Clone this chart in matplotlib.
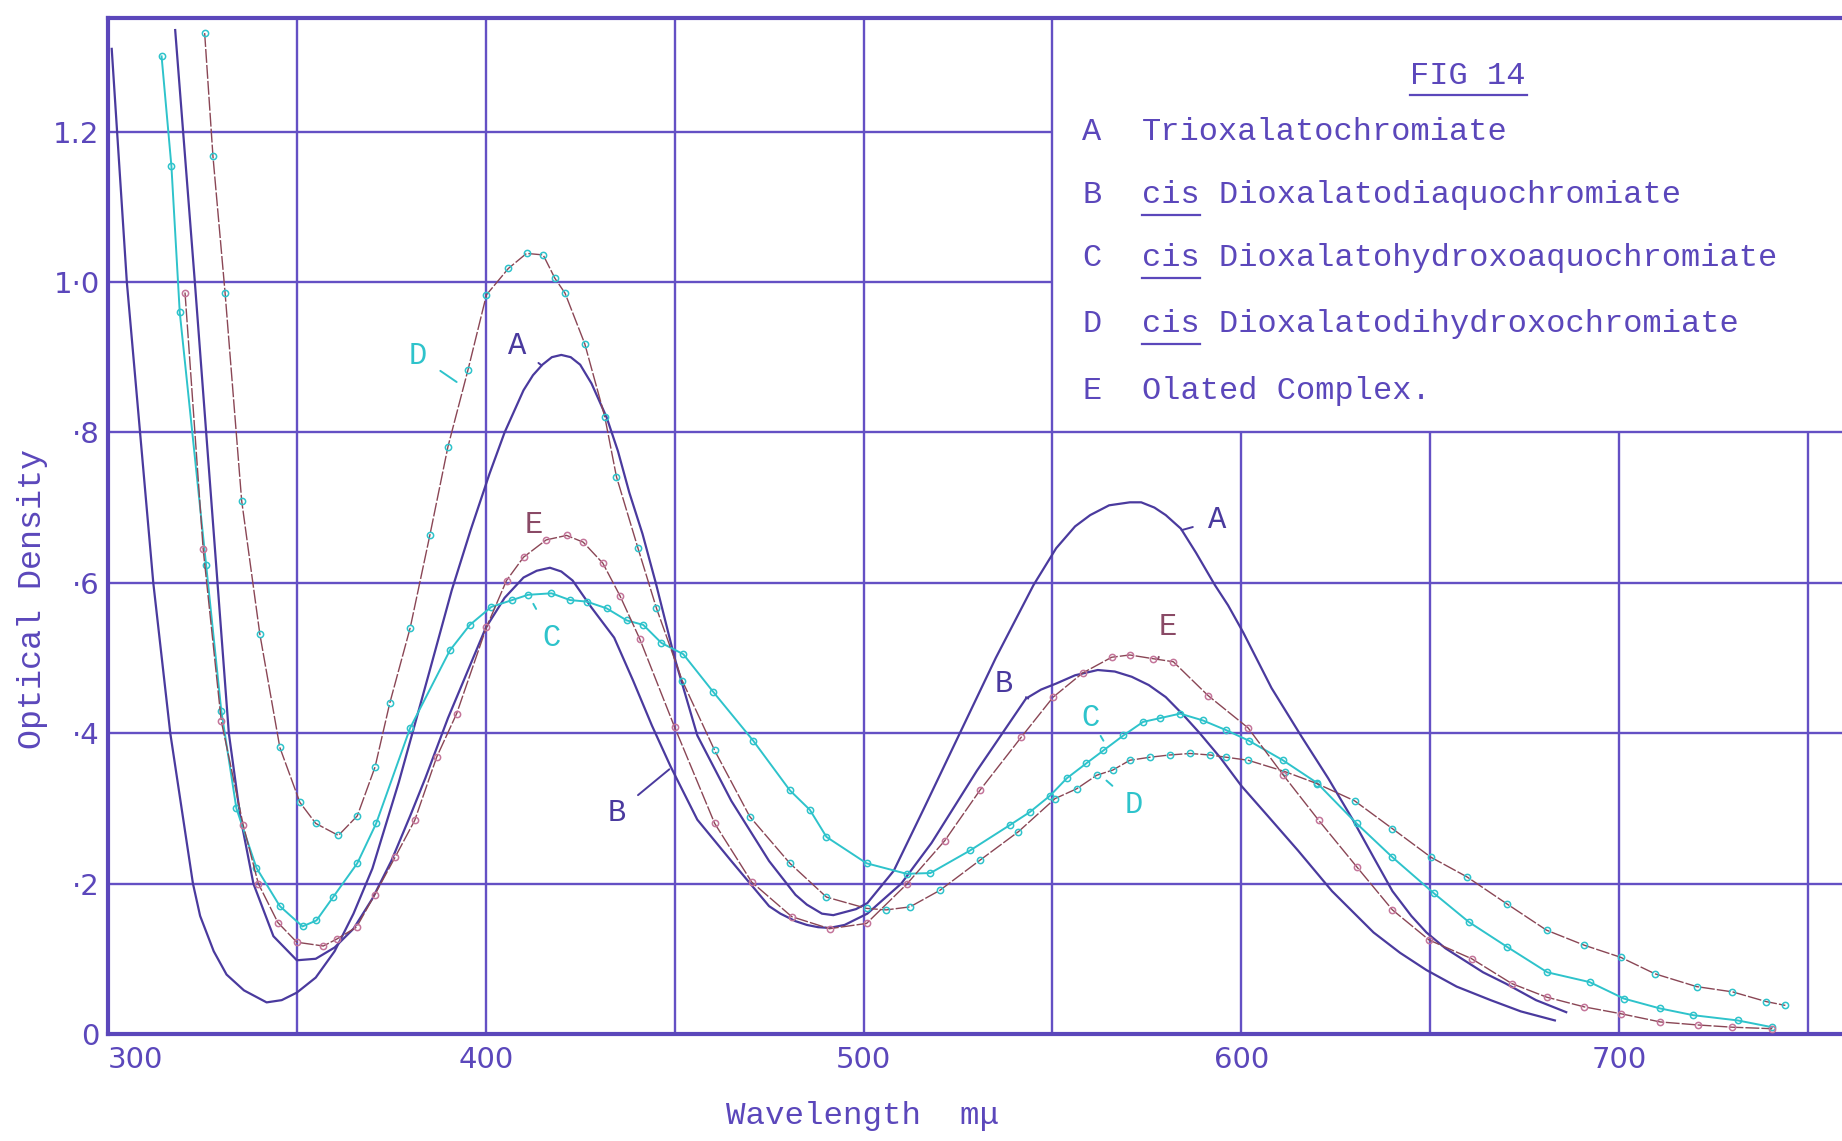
import matplotlib
matplotlib.use("Agg")
import matplotlib.pyplot as plt
from matplotlib.lines import Line2D

# ---- data (wavelength in m\u03bc, optical density) ----
A_nm = [301, 305, 308.5, 312, 316.5, 322.5, 324.4, 328, 331.4, 336, 342, 346, 350, 355, 360,
        365, 370, 377, 385, 391, 396, 401, 405, 410, 412.5, 415, 417.5, 420, 422.5, 425, 428,
        432, 435, 438, 441.5, 445, 450, 456, 465, 475, 482, 485, 489, 492, 495, 498, 501, 508,
        516, 525.5, 535, 545, 551, 556, 560, 565, 570.5, 573.5, 577, 580, 584, 588, 593,
        596.5, 600.5, 608, 616, 623, 629.5, 635, 640, 645, 649, 654, 659, 664, 670, 678, 686]
A_od = [1.31, 1.00, 0.80, 0.60, 0.40, 0.20, 0.157, 0.11, 0.079, 0.058, 0.042, 0.045, 0.055,
        0.075, 0.11, 0.16, 0.22, 0.335, 0.48, 0.59, 0.67, 0.745, 0.80, 0.856, 0.876, 0.89,
        0.90, 0.903, 0.90, 0.89, 0.865, 0.82, 0.775, 0.72, 0.665, 0.60, 0.50, 0.397, 0.31,
        0.23, 0.185, 0.172, 0.16, 0.158, 0.162, 0.166, 0.174, 0.217, 0.30, 0.40, 0.50, 0.597,
        0.646, 0.675, 0.69, 0.703, 0.707, 0.707, 0.70, 0.69, 0.672, 0.64, 0.597, 0.57, 0.534,
        0.46, 0.395, 0.34, 0.285, 0.235, 0.19, 0.157, 0.135, 0.114, 0.098, 0.082, 0.067,
        0.045, 0.029]

B_nm = [317.8, 323, 326, 329, 332, 335, 338.5, 343.8, 350, 355, 360, 365, 370, 375, 380, 384,
        390, 395, 400, 405, 410, 413.5, 417, 420, 423, 428, 434, 439, 444, 449, 456, 465, 475,
        478, 482, 485, 488, 491, 495, 501, 510, 518, 530, 543, 547, 551, 556, 562, 566.5, 571,
        575.5, 580, 584.5, 589, 594.5, 600, 607, 615, 624, 635, 642, 649, 657, 666, 674, 683]
B_od = [1.335, 1.0, 0.80, 0.60, 0.40, 0.29, 0.20, 0.13, 0.098, 0.10, 0.115, 0.14, 0.18, 0.23,
        0.29, 0.34, 0.42, 0.48, 0.54, 0.58, 0.607, 0.616, 0.62, 0.615, 0.603, 0.567, 0.527,
        0.47, 0.41, 0.355, 0.285, 0.23, 0.17, 0.16, 0.15, 0.145, 0.142, 0.141, 0.145, 0.16,
        0.20, 0.254, 0.35, 0.446, 0.458, 0.466, 0.477, 0.484, 0.482, 0.475, 0.464, 0.448,
        0.425, 0.40, 0.367, 0.33, 0.29, 0.244, 0.19, 0.135, 0.108, 0.085, 0.063, 0.045, 0.03,
        0.018]

C_nm = [314.2, 316.8, 319, 326, 330, 334, 339.3, 345.5, 351.5, 355.2, 359.6, 366, 371, 380,
        390.5, 395.8, 401.5, 407, 411.2, 417.4, 422.3, 426.7, 432, 437.3, 441.7, 446.5, 452.3,
        460.2, 470.8, 480.5, 485.8, 490.2, 500.8, 511.4, 517.7, 528.2, 538.8, 544, 549.4,
        553.8, 559, 563.5, 568.8, 574, 578.5, 583.8, 589.8, 596, 602, 611, 620, 630.5, 640,
        651, 660.2, 670.3, 681, 692.2, 701.3, 710.8, 719.6, 731.4, 740.5]
C_od = [1.30, 1.154, 0.96, 0.623, 0.43, 0.30, 0.221, 0.17, 0.143, 0.151, 0.182, 0.227, 0.28,
        0.407, 0.51, 0.544, 0.568, 0.577, 0.584, 0.586, 0.577, 0.575, 0.566, 0.55, 0.544, 0.52,
        0.505, 0.455, 0.39, 0.324, 0.298, 0.262, 0.227, 0.213, 0.214, 0.244, 0.278, 0.295,
        0.317, 0.34, 0.36, 0.377, 0.397, 0.415, 0.42, 0.426, 0.417, 0.404, 0.39, 0.364, 0.334,
        0.28, 0.235, 0.187, 0.149, 0.116, 0.082, 0.069, 0.047, 0.034, 0.025, 0.018, 0.009]

D_nm = [325.6, 327.8, 331, 335.4, 340.2, 345.5, 350.8, 355, 361, 366, 370.7, 374.6, 380,
        385.2, 390, 395.3, 400.2, 406, 410.8, 415.2, 418.3, 421, 426.2, 431.5, 434.6, 440.3,
        445.2, 452, 460.6, 469.9, 480.5, 490.2, 500.8, 506, 512.3, 520.2, 530.8, 541, 550.7,
        556.4, 561.7, 566, 570.5, 575.8, 581, 586.4, 591.7, 596, 601.8, 611.5, 620, 630, 640,
        650.2, 659.7, 670.3, 680.8, 690.8, 700.4, 709.5, 720.5, 730, 739, 744]
D_od = [1.331, 1.167, 0.986, 0.709, 0.532, 0.381, 0.308, 0.28, 0.264, 0.29, 0.355, 0.44,
        0.54, 0.663, 0.781, 0.883, 0.983, 1.018, 1.038, 1.036, 1.005, 0.985, 0.918, 0.821,
        0.741, 0.646, 0.566, 0.47, 0.377, 0.289, 0.227, 0.182, 0.167, 0.165, 0.169, 0.191,
        0.231, 0.269, 0.313, 0.326, 0.344, 0.351, 0.364, 0.368, 0.371, 0.373, 0.371, 0.368,
        0.364, 0.349, 0.333, 0.31, 0.273, 0.235, 0.209, 0.173, 0.138, 0.118, 0.102, 0.08,
        0.063, 0.056, 0.043, 0.038]

E_nm = [320.4, 325.2, 330, 335.8, 339.8, 345, 350, 357, 360.5, 365.8, 370.6, 376, 381.2, 387,
        392.3, 400.2, 405.5, 410, 416, 421.4, 425.8, 431, 435.5, 440.8, 450, 460.6, 470.4, 481,
        491, 500.8, 511.4, 521.5, 530.8, 541.8, 550.2, 558, 565.7, 570.5, 576.7, 582, 591.2,
        601.8, 611, 620.5, 630.6, 640, 649.7, 661, 671.6, 680.8, 690.8, 700.4, 710.9, 720.8,
        730, 740.5]
E_od = [0.986, 0.645, 0.416, 0.278, 0.20, 0.148, 0.122, 0.117, 0.126, 0.142, 0.185, 0.235,
        0.284, 0.368, 0.426, 0.541, 0.603, 0.634, 0.657, 0.663, 0.654, 0.626, 0.583, 0.525,
        0.408, 0.28, 0.202, 0.156, 0.14, 0.147, 0.199, 0.257, 0.324, 0.395, 0.448, 0.48,
        0.501, 0.504, 0.499, 0.495, 0.45, 0.407, 0.345, 0.284, 0.222, 0.165, 0.125, 0.10,
        0.067, 0.049, 0.036, 0.027, 0.016, 0.012, 0.009, 0.007]

x_ticks = [300, 400, 500, 600, 700]
y_ticks = [0, 0.2, 0.4, 0.6, 0.8, 1.0, 1.2]
y_tick_labels = ["0", "\u00b72", "\u00b74", "\u00b76", "\u00b78", "1\u00b70", "1.2"]

legend_letters = ["A", "B", "C", "D", "E"]
legend_names = ["Trioxalatochromiate",
                "cis Dioxalatodiaquochromiate",
                "cis Dioxalatohydroxoaquochromiate",
                "cis Dioxalatodihydroxochromiate",
                "Olated Complex."]

# ---- colours ----
INK = "#5b47bb"
GRID = "#6450c4"
SOLID = "#4a3a9e"
CYAN = "#2ec3cb"
BROWN = "#8a4655"
PINK = "#c4759a"
MONO = "Liberation Mono"

fig = plt.figure(figsize=(18.42, 11.41), dpi=100)
ax = fig.add_axes([0.0586, 0.0938, 0.9414, 0.8904])
ax.set_xlim(300, 759)
ax.set_ylim(0, 1.351)

# hand ruled grid, left blank behind the key
ax.vlines([350, 400, 450, 500, 550], 0, 1.351, color=GRID, lw=1.7, zorder=1)
ax.vlines([600, 650, 700, 750], 0, 0.8, color=GRID, lw=1.7, zorder=1)
ax.hlines([0.2, 0.4, 0.6, 0.8], 300, 759, color=GRID, lw=1.7, zorder=1)
ax.hlines([1.0, 1.2], 300, 550, color=GRID, lw=1.7, zorder=1)

# curves
ax.plot(A_nm, A_od, color=SOLID, lw=1.6, zorder=3)
ax.plot(B_nm, B_od, color=SOLID, lw=1.6, zorder=3)
ax.plot(C_nm, C_od, color=CYAN, lw=1.4, marker="o", ms=4.5, mfc="none", mec=CYAN,
        mew=1.1, zorder=4)
ax.plot(D_nm, D_od, color=BROWN, lw=1.0, ls=(0, (10, 1.5)), marker="o", ms=4.5, mfc="none",
        mec=CYAN, mew=1.1, zorder=4)
ax.plot(E_nm, E_od, color=BROWN, lw=1.0, ls=(0, (10, 1.5)), marker="o", ms=4.5, mfc="none",
        mec=PINK, mew=1.1, zorder=4)

# curve labels with little leader strokes
def tag(text, xy_text, xy_line, color):
    ax.annotate(text, xy=xy_line, xytext=xy_text, color=color, fontsize=22, family=MONO,
                ha="center", va="center", zorder=5,
                arrowprops=dict(arrowstyle="-", color=color, lw=1.4, shrinkA=9, shrinkB=0))

tag("A", (408.2, 0.915), (414.8, 0.889), SOLID)
tag("D", (382.1, 0.902), (392.3, 0.867), CYAN)
tag("B", (434.6, 0.294), (448.6, 0.352), SOLID)
tag("A", (593.5, 0.683), (584.2, 0.67), SOLID)
tag("B", (537.0, 0.466), (543.6, 0.446), SOLID)
tag("D", (571.5, 0.305), (564.3, 0.337), CYAN)
tag("C", (417.5, 0.527), (412.6, 0.572), CYAN)
tag("C", (560.0, 0.420), (563.5, 0.390), CYAN)
ax.text(412.6, 0.677, "E", color="#8a4a66", fontsize=22, family=MONO, ha="center",
        va="center", zorder=5)
tag("E", (580.6, 0.541), (578.0, 0.499), "#8a4a66")

# frame
for side in ["left", "bottom", "top"]:
    ax.spines[side].set_color(INK)
    ax.spines[side].set_linewidth(3)
ax.spines["right"].set_visible(False)

ax.set_xticks(x_ticks)
ax.set_xticklabels([str(v) for v in x_ticks])
ax.set_yticks(y_ticks)
ax.set_yticklabels(y_tick_labels)
ax.tick_params(length=0, colors=INK, labelsize=21, pad=9)
ax.tick_params(axis="y", pad=6)
ax.get_xticklabels()[0].set_ha("left")

fig.text(33 / 1842, 0.475, "Optical Density", rotation=90, color=INK, fontsize=24,
         family=MONO, ha="center", va="center")
fig.text(0.468, 0.022, "Wavelength  m\u03bc", color=INK, fontsize=23.4, family=MONO,
         ha="center", va="center")

# key in the upper right
fig.text(1468 / 1842, 1 - 76 / 1141, "FIG 14", color=INK, fontsize=23, family=MONO,
         ha="center", va="center")
fig.add_artist(Line2D([1410 / 1842, 1527 / 1842], [1 - 95 / 1141] * 2, color=INK, lw=1.6))

row_y = [132, 195, 258, 324, 391]
for letter, name, y in zip(legend_letters, legend_names, row_y):
    fy = 1 - y / 1141
    fig.text(1092 / 1842, fy, letter, color=INK, fontsize=23, family=MONO,
             ha="center", va="center")
    fig.text(1142 / 1842, fy, name, color=INK, fontsize=23, family=MONO,
             ha="left", va="center")
    if name.startswith("cis"):
        uy = 1 - (y + 20) / 1141
        fig.add_artist(Line2D([1142 / 1842, 1200 / 1842], [uy, uy], color=INK, lw=1.6))

fig.savefig("out.png", dpi=100, facecolor="white")
